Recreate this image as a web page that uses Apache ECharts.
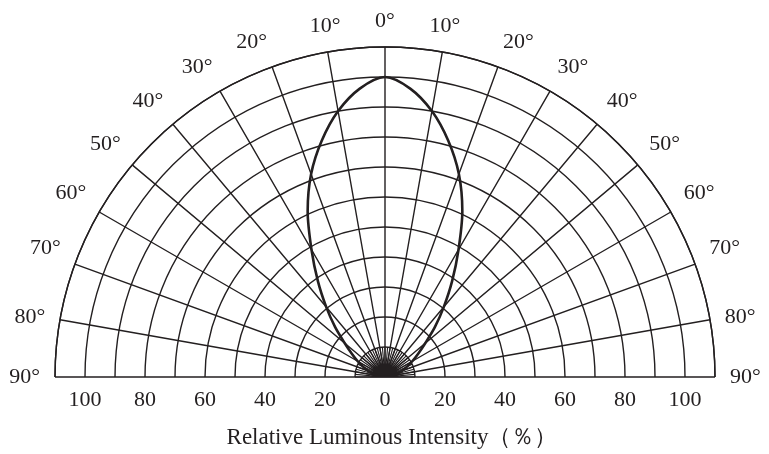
<!DOCTYPE html>
<html>
<head>
<meta charset="utf-8">
<script src="https://cdn.jsdelivr.net/npm/echarts@6/dist/echarts.min.js"></script>
<style>html,body{margin:0;padding:0;background:#fff}#c{width:769px;height:454px}</style>
</head>
<body>
<div id="c"></div>
<script>
// Emission angles (degrees) and relative luminous intensity (%)
const angles = [-90,-85,-80,-75,-70,-65,-60,-55,-50,-45,-40,-35,-30,-25,-20,-15,-10,-5,0,5,10,15,20,25,30,35,40,45,50,55,60,65,70,75,80,85,90];
const intensity = [0,1.2,2.5,4,6,8,10.5,13.5,17.5,23.5,30.5,39,49,61,72,81.5,90,96.5,100,96.5,90,81.5,72,61,49,39,30.5,23.5,17.5,13.5,10.5,8,6,4,2.5,1.2,0];
const angleTicks = [-90, 90, 10];      // min, max, step of angle grid
const radiusTicks = [0, 110, 10];      // min, max, step of radius rings
const bottomLabels = [-100,-80,-60,-40,-20,0,20,40,60,80,100];
const xTitle = 'Relative Luminous Intensity（％）';

const ink = '#231f20';
const font = '"Liberation Serif", "Times New Roman", serif';
const chart = echarts.init(document.getElementById('c'));
chart.setOption({
  animation: false,
  polar: [
    { center: [385, 377], radius: 330 },
    { center: [385, 377], radius: 30 }
  ],
  angleAxis: [{
    polarIndex: 0, type: 'value', min: angleTicks[0], max: angleTicks[1], interval: angleTicks[2],
    startAngle: 180, endAngle: 0, clockwise: true,
    axisLine: { show: true, lineStyle: { color: ink, width: 1.4 } },
    axisTick: { show: false },
    axisLabel: { show: true, margin: 15, color: ink, fontSize: 22, fontFamily: font,
      formatter: v => Math.abs(v) + '°' },
    splitLine: { show: true, lineStyle: { color: ink, width: 1.4 } }
  }, {
    polarIndex: 1, type: 'value', min: angleTicks[0], max: angleTicks[1], interval: 5,
    startAngle: 180, endAngle: 0, clockwise: true,
    axisLine: { show: false }, axisTick: { show: false }, axisLabel: { show: false },
    splitLine: { show: true, lineStyle: { color: ink, width: 1.1 } }
  }],
  radiusAxis: [{
    polarIndex: 0, type: 'value', min: radiusTicks[0], max: radiusTicks[1], interval: radiusTicks[2],
    axisLine: { show: false }, axisTick: { show: false }, axisLabel: { show: false },
    splitLine: { show: true, lineStyle: { color: ink, width: 1.4 } }
  }, {
    polarIndex: 1, type: 'value', min: 0, max: 10,
    axisLine: { show: false }, axisTick: { show: false }, axisLabel: { show: false },
    splitLine: { show: false }
  }],
  grid: { left: 55, right: 54, top: 20, bottom: 77 },
  xAxis: {
    type: 'value', min: -110, max: 110, interval: 10,
    axisLine: { show: false }, axisTick: { show: false }, splitLine: { show: false },
    axisLabel: { margin: 15, color: ink, fontSize: 22, fontFamily: font,
      formatter: v => bottomLabels.indexOf(v) >= 0 ? String(Math.abs(v)) : '' },
    name: xTitle, nameLocation: 'middle', nameGap: 52,
    nameTextStyle: { color: ink, fontSize: 23, fontFamily: font, padding: [0, 0, 0, 14] }
  },
  yAxis: { type: 'value', show: false, min: 0, max: 1 },
  series: [{
    type: 'line', coordinateSystem: 'polar', polarIndex: 0,
    data: angles.map((a, i) => [intensity[i], a]),
    symbol: 'none', smooth: 0.3,
    lineStyle: { color: ink, width: 2.6 },
    z: 10
  }]
});
</script>
</body>
</html>
